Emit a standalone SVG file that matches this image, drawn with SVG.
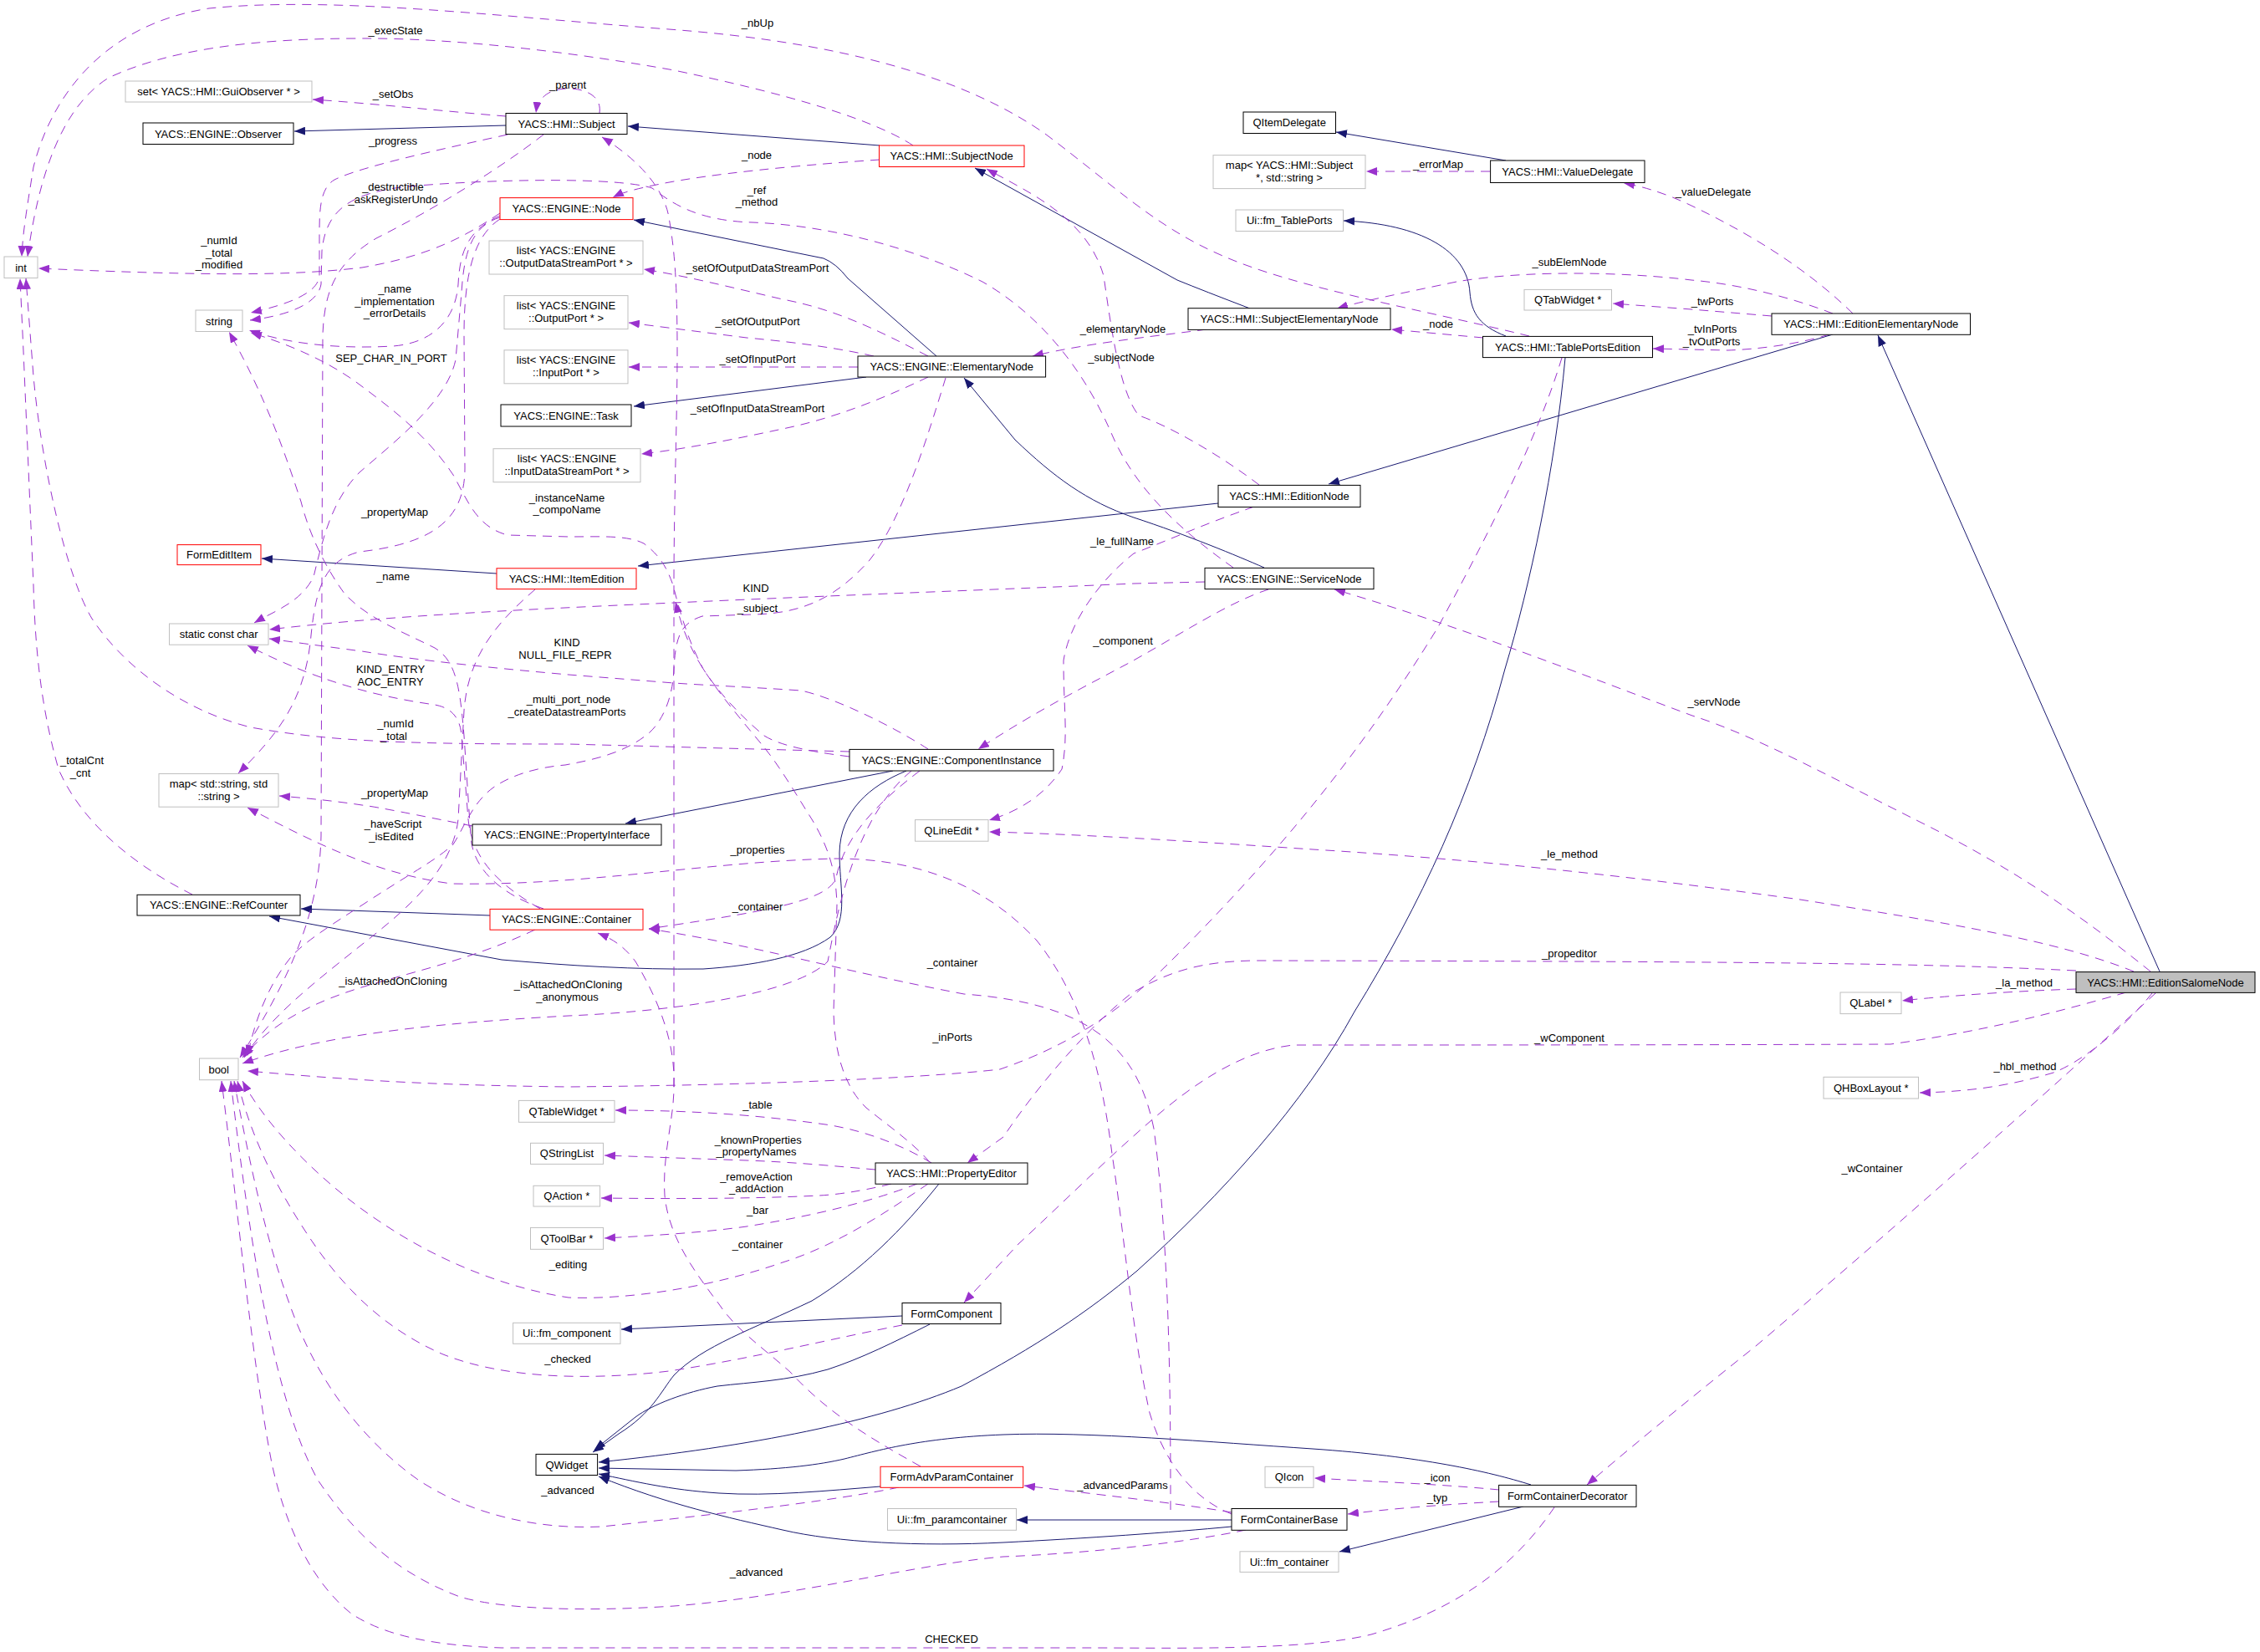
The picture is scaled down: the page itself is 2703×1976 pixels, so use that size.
<svg xmlns="http://www.w3.org/2000/svg" width="2703" height="1976" viewBox="0 0 2703 1976">
<style>
text{font-family:"Liberation Sans",Arial,sans-serif;font-size:13px;fill:#000}
.c{text-anchor:middle}
.b rect{fill:#fff;stroke:#000;stroke-width:1}
.g rect{fill:#fff;stroke:#bfbfbf;stroke-width:1}
.r rect{fill:#fff;stroke:#f00;stroke-width:1}
.d{fill:none;stroke:#9a32cd;stroke-width:1;stroke-dasharray:11,8;marker-end:url(#ap)}
.s{fill:none;stroke:#191970;stroke-width:1;marker-end:url(#an)}
</style>
<defs>
<marker id="ap" viewBox="0 0 13 10" refX="13" refY="5" markerUnits="userSpaceOnUse" markerWidth="13" markerHeight="10" orient="auto"><path d="M0,0L13,5L0,10z" fill="#9a32cd"/></marker>
<marker id="an" viewBox="0 0 13 10" refX="13" refY="5" markerUnits="userSpaceOnUse" markerWidth="13" markerHeight="10" orient="auto"><path d="M0,0L13,5L0,10z" fill="#191970"/></marker>
</defs>
<rect width="2703" height="1976" fill="#fff"/>
<g id="connectors">
<path class="s" d="M605,150L352,157"/>
<path class="s" d="M1052,174L751,151"/>
<path class="s" d="M1120,426L1014,333Q1000,315 985,309L758,263"/>
<path class="s" d="M1036,451L758,486"/>
<path class="s" d="M1495,369Q1440,348 1408,335L1166,201"/>
<path class="s" d="M1801,192L1598,158"/>
<path class="s" d="M1801,402C1770,390 1760,375 1758,350C1755,300 1700,268 1607,264"/>
<path class="s" d="M1872,428C1860,560 1830,700 1800,800C1760,950 1700,1080 1620,1210C1560,1320 1460,1430 1360,1520C1300,1570 1240,1610 1150,1658C1050,1700 900,1730 716,1749"/>
<path class="s" d="M2192,400L1589,579"/>
<path class="s" d="M1457,602L763,677"/>
<path class="s" d="M594,686L313,668"/>
<path class="s" d="M1512,679C1480,665 1420,640 1356,619C1300,600 1260,570 1214,526L1153,452"/>
<path class="s" d="M2583,1162L2246,401"/>
<path class="s" d="M1068,922L748,985"/>
<path class="s" d="M1084,922C1040,940 1005,970 1004,1020C1004,1060 1015,1100 993,1121C960,1145 900,1155 841,1159C760,1160 680,1155 600,1148L322,1096"/>
<path class="s" d="M586,1095L360,1087"/>
<path class="s" d="M1123,1416C1080,1470 1030,1520 971,1556C900,1590 840,1610 806,1645C790,1665 780,1690 740,1715L709,1737"/>
<path class="s" d="M1079,1574L743,1590"/>
<path class="s" d="M1112,1584C1070,1605 1030,1625 990,1638C940,1652 900,1653 858,1658C820,1665 780,1680 760,1695L711,1734"/>
<path class="s" d="M1831,1776C1780,1760 1700,1742 1570,1733C1450,1725 1300,1712 1200,1716C1100,1720 1050,1735 1010,1745C980,1752 940,1757 880,1759L716,1756"/>
<path class="s" d="M1053,1778C990,1783 920,1790 860,1786C800,1782 760,1772 716,1763"/>
<path class="s" d="M1473,1818L1216,1818"/>
<path class="s" d="M1473,1826C1400,1833 1300,1840 1200,1845C1100,1850 1000,1845 936,1830C870,1815 800,1800 716,1766"/>
<path class="s" d="M1822,1802L1602,1856"/>
<path class="d" d="M1829,402C1700,370 1550,345 1460,305C1380,270 1330,220 1250,160C1150,90 1000,50 800,35C600,20 400,-5 250,10C120,30 60,120 40,200C32,250 27,280 26,307"/>
<path class="d" d="M1092,174C1040,140 930,110 806,84C700,65 550,45 430,46C300,46 200,60 130,93C70,130 45,220 33,307"/>
<path class="d" d="M605,139C540,134 450,124 374,119"/>
<path class="d" d="M717,135C720,115 700,106 680,106C655,106 643,118 641,135"/>
<path class="d" d="M1052,191C950,198 850,208 790,220C760,226 745,230 733,236"/>
<path class="d" d="M607,161C520,180 430,200 400,215C383,225 382,250 382,280L382,330C380,352 340,365 300,374"/>
<path class="d" d="M650,161C600,200 520,250 450,285C400,315 388,350 386,400L384,1000C382,1100 340,1180 287,1265"/>
<path class="d" d="M598,255C560,280 520,305 433,320C350,330 250,330 46,321"/>
<path class="d" d="M598,258C560,275 550,300 548,340C545,380 520,410 470,414C400,418 340,410 298,395"/>
<path class="d" d="M598,260C565,270 555,300 552,350L545,430C535,480 470,530 430,565C395,600 385,650 375,690C360,720 330,730 304,745"/>
<path class="d" d="M598,262C570,280 555,320 555,400L556,560C556,620 520,650 430,660C390,670 378,700 372,760C365,840 330,880 285,925"/>
<path class="d" d="M1475,679C1420,640 1360,590 1330,520C1300,450 1250,380 1175,337C1100,300 1000,270 900,266C830,264 800,240 780,225C740,212 600,214 500,222C420,228 390,250 385,300L384,340C380,365 340,378 299,383"/>
<path class="d" d="M1016,899L680,890C500,890 400,888 300,870C220,850 150,800 110,740C80,690 50,560 40,450L31,333"/>
<path class="d" d="M230,1070C170,1040 100,990 70,920C50,850 42,780 40,700L28,420L24,333"/>
<path class="d" d="M1441,696L1356,698C1200,705 1000,712 806,721C600,730 450,738 322,753"/>
<path class="d" d="M1110,896C1070,870 1000,835 958,826C900,822 850,820 806,817L680,807C600,800 500,790 433,779C380,772 350,768 322,764"/>
<path class="d" d="M646,1087C600,1060 565,1030 560,980L552,880C550,850 530,845 520,843C450,833 380,815 296,772"/>
<path class="d" d="M650,1087C600,1070 565,1040 563,1000L555,880C550,820 545,790 520,775C480,755 440,740 412,710C390,680 370,640 360,600C340,540 320,480 274,397"/>
<path class="d" d="M565,988C500,975 450,965 433,963C400,958 370,955 334,952"/>
<path class="d" d="M1473,1811C1420,1790 1390,1740 1375,1690C1355,1600 1345,1480 1330,1380C1320,1300 1300,1200 1240,1125C1180,1060 1100,1027 1000,1027C850,1030 700,1060 540,1057C450,1045 380,1010 296,966"/>
<path class="d" d="M1101,1754C1040,1720 990,1690 945,1641C910,1610 880,1590 860,1560C830,1520 800,1480 795,1430C792,1380 806,1340 806,1300L806,700C806,600 810,500 810,420C810,330 806,295 800,260C795,230 770,195 720,164"/>
<path class="d" d="M1112,1390C1090,1365 1060,1345 1036,1325C1010,1300 998,1260 997,1210L1001,1082C1000,1050 995,1020 971,980C955,955 935,920 914,894C890,865 860,830 841,800C825,775 815,750 808,720"/>
<path class="d" d="M1016,905C960,898 930,890 914,880C890,860 860,830 841,800C825,770 815,740 805,700C798,680 790,665 770,650C750,640 720,642 680,642L607,640C570,630 560,600 542,568C510,520 470,490 430,460C390,430 340,410 300,398"/>
<path class="d" d="M1131,452C1110,520 1080,620 1040,670C1000,715 960,734 900,735L840,737C815,745 808,760 806,800C805,830 795,860 776,877C750,898 720,907 676,915C640,918 610,928 590,942C565,960 555,990 542,1010C520,1030 490,1045 434,1082C390,1110 360,1130 347,1146C320,1180 305,1220 296,1263"/>
<path class="d" d="M1782,205L1634,205"/>
<path class="d" d="M2216,375C2160,320 2090,278 2023,246C1990,230 1960,222 1942,219"/>
<path class="d" d="M2192,375C2140,355 2080,340 2023,335C1950,326 1830,322 1742,337C1680,350 1630,360 1599,369"/>
<path class="d" d="M2119,378L2023,370L1929,363"/>
<path class="d" d="M2188,400C2150,412 2100,418 2066,419L1977,417"/>
<path class="d" d="M1774,404L1664,394"/>
<path class="d" d="M1443,394C1400,400 1300,410 1235,426"/>
<path class="d" d="M1506,580C1460,545 1400,510 1362,497C1340,470 1330,400 1320,330C1300,260 1230,230 1180,202"/>
<path class="d" d="M1110,426C1050,395 1000,370 936,358C880,345 820,330 770,322"/>
<path class="d" d="M1045,426C1010,418 960,410 893,404L752,386"/>
<path class="d" d="M1026,439L752,439"/>
<path class="d" d="M1110,451C1060,475 1000,500 936,513C880,525 820,537 767,543"/>
<path class="d" d="M1500,606C1440,627 1400,645 1356,662C1320,690 1280,740 1272,790C1272,850 1278,880 1270,920C1250,950 1220,970 1183,981"/>
<path class="d" d="M1517,705C1470,720 1410,760 1352,792C1300,820 1240,850 1170,896"/>
<path class="d" d="M2572,1162C2500,1104 2420,1045 2300,985C2200,935 2100,880 2024,856C1900,810 1750,750 1596,705"/>
<path class="d" d="M2552,1162C2460,1125 2330,1104 2153,1076C2000,1055 1800,1030 1570,1016C1450,1008 1300,998 1183,995"/>
<path class="d" d="M2483,1161C2300,1152 2100,1150 1500,1149C1440,1150 1400,1160 1352,1189C1300,1230 1240,1300 1200,1360L1157,1391"/>
<path class="d" d="M1868,428C1840,520 1790,620 1720,750C1640,880 1550,1000 1400,1150C1320,1230 1250,1260 1196,1279C1100,1290 900,1298 680,1300C500,1298 400,1290 296,1281"/>
<path class="d" d="M2543,1187C2456,1212 2370,1234 2261,1249C2000,1250 1700,1250 1547,1250C1500,1255 1450,1280 1395,1325C1340,1370 1270,1440 1218,1488L1153,1558"/>
<path class="d" d="M2483,1183C2390,1186 2300,1194 2275,1197"/>
<path class="d" d="M2574,1188C2540,1230 2490,1270 2456,1283C2400,1300 2350,1306 2296,1307"/>
<path class="d" d="M2578,1188C2500,1260 2300,1440 2100,1610C2000,1690 1940,1740 1898,1776"/>
<path class="d" d="M1114,1391C1080,1370 1030,1350 980,1344C900,1333 820,1328 736,1328"/>
<path class="d" d="M1047,1399C1000,1395 950,1390 893,1388L723,1382"/>
<path class="d" d="M1066,1416C1030,1425 1000,1429 980,1430C900,1434 800,1434 719,1433"/>
<path class="d" d="M1097,1416C1060,1430 1000,1450 893,1467C850,1473 800,1477 723,1481"/>
<path class="d" d="M1110,1416C1060,1450 1000,1490 936,1510C850,1540 750,1555 680,1552C600,1540 520,1505 460,1465C390,1420 320,1350 290,1293"/>
<path class="d" d="M1079,1585C1000,1600 900,1625 800,1640C700,1652 600,1648 530,1620C460,1590 410,1540 370,1480C330,1420 300,1360 284,1293"/>
<path class="d" d="M1075,1779C1000,1795 850,1812 720,1826C640,1830 560,1810 500,1770C430,1720 380,1650 350,1570C320,1490 300,1400 280,1293"/>
<path class="d" d="M1490,1830C1420,1845 1300,1858 1200,1862C1100,1870 950,1910 806,1921C700,1928 600,1925 550,1910C470,1880 420,1830 380,1770C330,1680 300,1500 276,1293"/>
<path class="d" d="M1859,1803C1820,1860 1760,1920 1640,1955C1560,1975 1400,1971 1300,1971L600,1971C500,1968 450,1950 420,1930C370,1890 340,1820 325,1750C300,1620 285,1450 265,1293"/>
<path class="d" d="M1473,1809C1420,1800 1360,1793 1225,1777"/>
<path class="d" d="M1793,1782C1720,1775 1640,1772 1572,1768"/>
<path class="d" d="M1793,1796C1720,1800 1660,1805 1612,1811"/>
<path class="d" d="M1400,1806C1400,1700 1400,1500 1380,1350C1360,1250 1300,1200 1153,1189C1000,1160 900,1130 776,1111"/>
<path class="d" d="M806,1300C808,1250 790,1200 760,1150C745,1130 730,1122 715,1116"/>
<path class="d" d="M1090,922C1020,980 1000,1100 990,1150C950,1190 800,1210 680,1215C500,1225 380,1240 290,1272"/>
<path class="d" d="M640,1112C560,1150 480,1165 420,1185C360,1205 320,1230 290,1265"/>
<path class="d" d="M640,705C600,740 560,780 555,850L548,980C540,1050 470,1100 420,1140C370,1180 320,1220 292,1265"/>
<path class="d" d="M1100,922C1050,960 1010,1000 1000,1050C990,1080 900,1092 776,1111"/>
</g>
<g id="n1" class="g"><rect x="150" y="97" width="223" height="25"/><text class="c" x="261.5" y="114">set&lt; YACS::HMI::GuiObserver * &gt;</text></g>
<g id="n2" class="b"><rect x="171" y="147" width="180" height="25.5"/><text class="c" x="261" y="164.5">YACS::ENGINE::Observer</text></g>
<g id="n3" class="b"><rect x="605" y="135.5" width="145" height="25"/><text class="c" x="677.5" y="152.5">YACS::HMI::Subject</text></g>
<g id="n4" class="g"><rect x="5" y="307" width="40" height="25.5"/><text class="c" x="25" y="324.5">int</text></g>
<g id="n5" class="g"><rect x="234" y="371" width="56" height="25.5"/><text class="c" x="262" y="388.5">string</text></g>
<g id="n6" class="r"><rect x="598" y="236.6" width="159" height="26"/><text class="c" x="677.5" y="254">YACS::ENGINE::Node</text></g>
<g id="n7" class="g"><rect x="585" y="288" width="184" height="40"/><text class="c" x="677" y="304">list&lt; YACS::ENGINE</text><text class="c" x="677" y="319">::OutputDataStreamPort * &gt;</text></g>
<g id="n8" class="g"><rect x="603" y="353.6" width="148" height="40"/><text class="c" x="677" y="369.6">list&lt; YACS::ENGINE</text><text class="c" x="677" y="384.6">::OutputPort * &gt;</text></g>
<g id="n9" class="g"><rect x="603" y="418.8" width="148" height="40"/><text class="c" x="677" y="434.8">list&lt; YACS::ENGINE</text><text class="c" x="677" y="449.8">::InputPort * &gt;</text></g>
<g id="n10" class="b"><rect x="599" y="484" width="156" height="26"/><text class="c" x="677" y="501.5">YACS::ENGINE::Task</text></g>
<g id="n11" class="g"><rect x="590" y="536.7" width="176" height="40"/><text class="c" x="678" y="552.7">list&lt; YACS::ENGINE</text><text class="c" x="678" y="567.7">::InputDataStreamPort * &gt;</text></g>
<g id="n12" class="r"><rect x="212" y="651.6" width="100" height="24"/><text class="c" x="262" y="668">FormEditItem</text></g>
<g id="n13" class="g"><rect x="202.5" y="746" width="118.5" height="25.2"/><text class="c" x="261.7" y="763">static const char</text></g>
<g id="n14" class="g"><rect x="190" y="925.5" width="143" height="39.7"/><text class="c" x="261.5" y="941.5">map&lt; std::string, std</text><text class="c" x="261.5" y="956.5">::string &gt;</text></g>
<g id="n15" class="b"><rect x="164" y="1070.3" width="195" height="24.7"/><text class="c" x="261.5" y="1087">YACS::ENGINE::RefCounter</text></g>
<g id="n16" class="g"><rect x="238.5" y="1266" width="46.5" height="25.7"/><text class="c" x="261.7" y="1283.5">bool</text></g>
<g id="n17" class="r"><rect x="594" y="679.8" width="167" height="24.8"/><text class="c" x="677.5" y="696.7">YACS::HMI::ItemEdition</text></g>
<g id="n18" class="r"><rect x="586" y="1087.4" width="183" height="24.8"/><text class="c" x="677.5" y="1104.3">YACS::ENGINE::Container</text></g>
<g id="n19" class="b"><rect x="565" y="986" width="226" height="25"/><text class="c" x="678" y="1003">YACS::ENGINE::PropertyInterface</text></g>
<g id="n20" class="b"><rect x="1016" y="896.4" width="244" height="25.6"/><text class="c" x="1138" y="913.7">YACS::ENGINE::ComponentInstance</text></g>
<g id="n21" class="g"><rect x="1094.5" y="980.6" width="87.5" height="25.6"/><text class="c" x="1138.2" y="997.9">QLineEdit *</text></g>
<g id="n22" class="r"><rect x="1051.5" y="174" width="173.5" height="25.5"/><text class="c" x="1138.2" y="191.2">YACS::HMI::SubjectNode</text></g>
<g id="n23" class="b"><rect x="1026" y="426" width="224.6" height="25"/><text class="c" x="1138.3" y="443">YACS::ENGINE::ElementaryNode</text></g>
<g id="n24" class="b"><rect x="1487" y="134" width="110.5" height="25.5"/><text class="c" x="1542.2" y="151.2">QItemDelegate</text></g>
<g id="n25" class="g"><rect x="1451" y="185.6" width="182" height="40"/><text class="c" x="1542" y="201.6">map&lt; YACS::HMI::Subject</text><text class="c" x="1542" y="216.6">*, std::string &gt;</text></g>
<g id="n26" class="b"><rect x="1782.6" y="192" width="184.4" height="26.5"/><text class="c" x="1874.8" y="209.7">YACS::HMI::ValueDelegate</text></g>
<g id="n27" class="g"><rect x="1478" y="251" width="128.5" height="25.5"/><text class="c" x="1542.2" y="268.2">Ui::fm_TablePorts</text></g>
<g id="n28" class="b"><rect x="1421" y="368.7" width="242" height="25.7"/><text class="c" x="1542" y="386">YACS::HMI::SubjectElementaryNode</text></g>
<g id="n29" class="g"><rect x="1823" y="346.4" width="104.5" height="24.6"/><text class="c" x="1875.2" y="363.2">QTabWidget *</text></g>
<g id="n30" class="b"><rect x="1773.5" y="402.4" width="203" height="25.2"/><text class="c" x="1875" y="419.5">YACS::HMI::TablePortsEdition</text></g>
<g id="n31" class="b"><rect x="1457" y="580.4" width="170" height="26.1"/><text class="c" x="1542" y="598">YACS::HMI::EditionNode</text></g>
<g id="n32" class="b"><rect x="2119" y="375" width="237.5" height="25.3"/><text class="c" x="2237.7" y="392.2">YACS::HMI::EditionElementaryNode</text></g>
<g id="n33" class="b"><rect x="1441" y="679.4" width="202" height="25.2"/><text class="c" x="1542" y="696.5">YACS::ENGINE::ServiceNode</text></g>
<g id="n34" class="b"><rect x="2483" y="1162.6" width="214" height="24.8" style="fill:#bfbfbf"/><text class="c" x="2590" y="1179.5">YACS::HMI::EditionSalomeNode</text></g>
<g id="n35" class="g"><rect x="2201" y="1187" width="73" height="25.6"/><text class="c" x="2237.5" y="1204.3">QLabel *</text></g>
<g id="n36" class="g"><rect x="2181" y="1288.3" width="113.5" height="25.7"/><text class="c" x="2237.7" y="1305.6">QHBoxLayout *</text></g>
<g id="n37" class="g"><rect x="620.5" y="1316.4" width="114.5" height="25.9"/><text class="c" x="677.7" y="1333.8">QTableWidget *</text></g>
<g id="n38" class="g"><rect x="634.5" y="1367.3" width="87" height="25.1"/><text class="c" x="678" y="1384.3">QStringList</text></g>
<g id="n39" class="g"><rect x="638" y="1418.3" width="79.6" height="24.7"/><text class="c" x="677.8" y="1435.1">QAction *</text></g>
<g id="n40" class="g"><rect x="634.5" y="1468.4" width="87" height="25.9"/><text class="c" x="678" y="1485.8">QToolBar *</text></g>
<g id="n41" class="g"><rect x="613.6" y="1582.3" width="128.4" height="25"/><text class="c" x="677.8" y="1599.3">Ui::fm_component</text></g>
<g id="n42" class="b"><rect x="641" y="1739.4" width="73.6" height="25.1"/><text class="c" x="677.8" y="1756.5">QWidget</text></g>
<g id="n43" class="b"><rect x="1047" y="1391" width="182" height="25.2"/><text class="c" x="1138" y="1408.1">YACS::HMI::PropertyEditor</text></g>
<g id="n44" class="b"><rect x="1079" y="1558.5" width="118" height="25"/><text class="c" x="1138" y="1575.5">FormComponent</text></g>
<g id="n45" class="r"><rect x="1053" y="1754.3" width="170.7" height="25"/><text class="c" x="1138.3" y="1771.3">FormAdvParamContainer</text></g>
<g id="n46" class="g"><rect x="1061.5" y="1804.5" width="154" height="25.8"/><text class="c" x="1138.5" y="1821.9">Ui::fm_paramcontainer</text></g>
<g id="n47" class="g"><rect x="1513" y="1754.3" width="58" height="25"/><text class="c" x="1542" y="1771.3">QIcon</text></g>
<g id="n48" class="b"><rect x="1792.6" y="1776.4" width="164.4" height="25.9"/><text class="c" x="1874.8" y="1793.8">FormContainerDecorator</text></g>
<g id="n49" class="b"><rect x="1473" y="1804.5" width="138" height="25.8"/><text class="c" x="1542" y="1821.9">FormContainerBase</text></g>
<g id="n50" class="g"><rect x="1483" y="1855.8" width="118" height="24.6"/><text class="c" x="1542" y="1872.6">Ui::fm_container</text></g>
<g id="labels">
<text class="c" x="906" y="32">_nbUp</text>
<text class="c" x="473" y="41">_execState</text>
<text class="c" x="470" y="117">_setObs</text>
<text class="c" x="679" y="106">_parent</text>
<text class="c" x="470" y="173">_progress</text>
<text class="c" x="470" y="227.5">_destructible</text>
<text class="c" x="470" y="242.5">_askRegisterUndo</text>
<text class="c" x="905" y="190">_node</text>
<text class="c" x="905" y="232">_ref</text>
<text class="c" x="905" y="246">_method</text>
<text class="c" x="262" y="292">_numId</text>
<text class="c" x="262" y="306.5">_total</text>
<text class="c" x="262" y="321">_modified</text>
<text class="c" x="472" y="349.5">_name</text>
<text class="c" x="472" y="364.5">_implementation</text>
<text class="c" x="472" y="378.5">_errorDetails</text>
<text class="c" x="468" y="432.5">SEP_CHAR_IN_PORT</text>
<text class="c" x="906" y="325">_setOfOutputDataStreamPort</text>
<text class="c" x="906" y="389">_setOfOutputPort</text>
<text class="c" x="906" y="434">_setOfInputPort</text>
<text class="c" x="906" y="493">_setOfInputDataStreamPort</text>
<text class="c" x="678" y="600">_instanceName</text>
<text class="c" x="678" y="614">_compoName</text>
<text class="c" x="472" y="617">_propertyMap</text>
<text class="c" x="1343" y="398">_elementaryNode</text>
<text class="c" x="1341" y="432">_subjectNode</text>
<text class="c" x="1720" y="201">_errorMap</text>
<text class="c" x="2049" y="234">_valueDelegate</text>
<text class="c" x="1877" y="318">_subElemNode</text>
<text class="c" x="2048" y="364.5">_twPorts</text>
<text class="c" x="1720" y="391.5">_node</text>
<text class="c" x="2048" y="398">_tvInPorts</text>
<text class="c" x="2047" y="413">_tvOutPorts</text>
<text class="c" x="1342" y="651.5">_le_fullName</text>
<text class="c" x="470" y="693.5">_name</text>
<text class="c" x="904" y="707.5">KIND</text>
<text class="c" x="906" y="732">_subject</text>
<text class="c" x="678" y="772.5">KIND</text>
<text class="c" x="676" y="787.5">NULL_FILE_REPR</text>
<text class="c" x="467" y="805">KIND_ENTRY</text>
<text class="c" x="467" y="819.5">AOC_ENTRY</text>
<text class="c" x="680" y="841">_multi_port_node</text>
<text class="c" x="678" y="856">_createDatastreamPorts</text>
<text class="c" x="473" y="869.5">_numId</text>
<text class="c" x="471" y="884.5">_total</text>
<text class="c" x="98" y="914">_totalCnt</text>
<text class="c" x="96" y="929">_cnt</text>
<text class="c" x="1343" y="770.5">_component</text>
<text class="c" x="2050" y="844">_servNode</text>
<text class="c" x="472" y="953">_propertyMap</text>
<text class="c" x="470" y="989.5">_haveScript</text>
<text class="c" x="468" y="1004.5">_isEdited</text>
<text class="c" x="906" y="1021">_properties</text>
<text class="c" x="1877" y="1026">_le_method</text>
<text class="c" x="906" y="1089">_container</text>
<text class="c" x="1139" y="1156">_container</text>
<text class="c" x="1877" y="1145">_propeditor</text>
<text class="c" x="470" y="1177.5">_isAttachedOnCloning</text>
<text class="c" x="679.5" y="1181.5">_isAttachedOnCloning</text>
<text class="c" x="678.5" y="1197">_anonymous</text>
<text class="c" x="2421" y="1180">_la_method</text>
<text class="c" x="1877" y="1246">_wComponent</text>
<text class="c" x="1139" y="1245">_inPorts</text>
<text class="c" x="2422" y="1280">_hbl_method</text>
<text class="c" x="906" y="1326">_table</text>
<text class="c" x="906.7" y="1368">_knownProperties</text>
<text class="c" x="904.5" y="1382">_propertyNames</text>
<text class="c" x="904.5" y="1412">_removeAction</text>
<text class="c" x="904.5" y="1426">_addAction</text>
<text class="c" x="906" y="1451.5">_bar</text>
<text class="c" x="906" y="1493">_container</text>
<text class="c" x="679.5" y="1517">_editing</text>
<text class="c" x="2239" y="1402">_wContainer</text>
<text class="c" x="679" y="1629.5">_checked</text>
<text class="c" x="679" y="1787">_advanced</text>
<text class="c" x="1342.5" y="1781">_advancedParams</text>
<text class="c" x="1719" y="1772">_icon</text>
<text class="c" x="1719" y="1796">_typ</text>
<text class="c" x="904.5" y="1885">_advanced</text>
<text class="c" x="1138" y="1965">CHECKED</text>
</g>
</svg>
